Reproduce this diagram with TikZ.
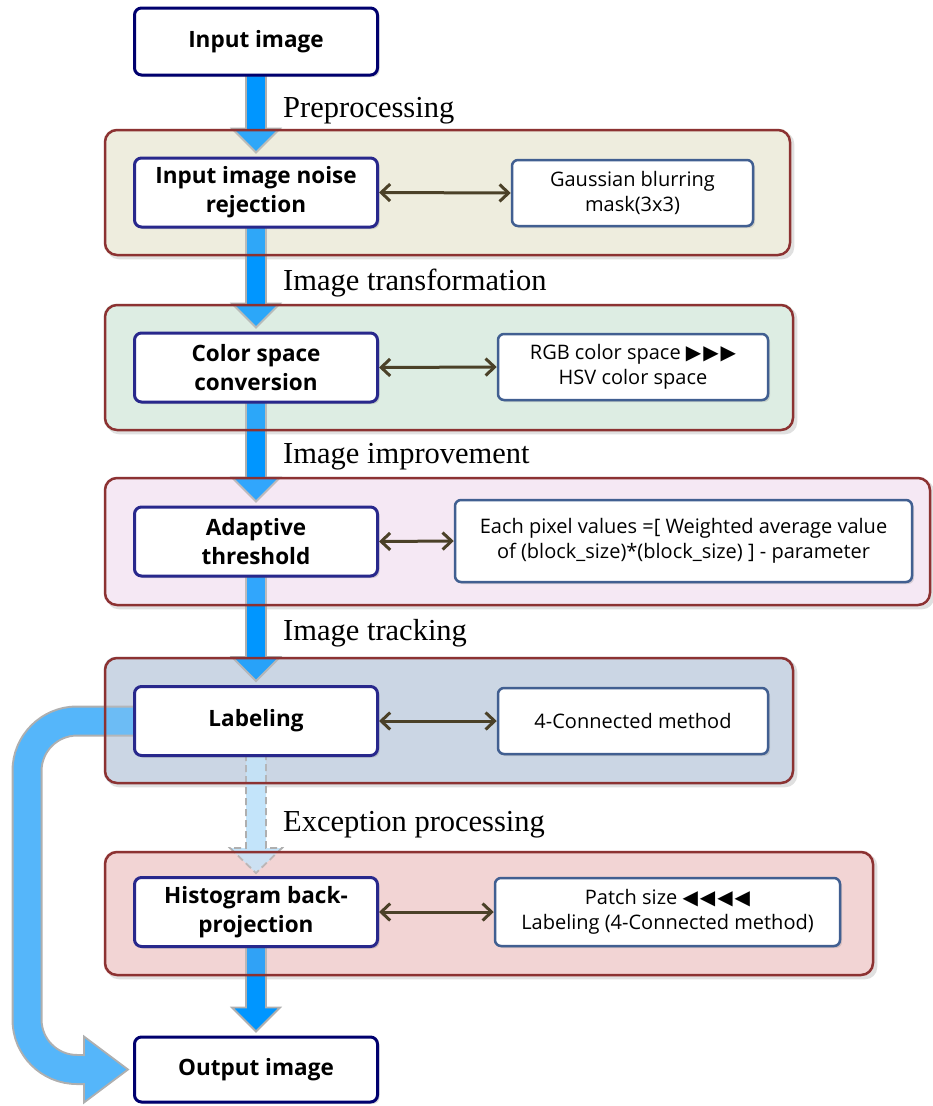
\documentclass[tikz,border=0pt]{standalone}
\usepackage{fontspec}
\setmainfont{Liberation Serif}
\newfontfamily\nodefont{Open Sans}
\newfontfamily\symfont{DejaVu Sans}
\usetikzlibrary{calc,shadows,arrows.meta}
\pgfdeclarelayer{bg}\pgfdeclarelayer{flow}\pgfdeclarelayer{tint}
\pgfsetlayers{bg,flow,tint,main}
\definecolor{navy}{RGB}{0,0,110}
\definecolor{nodeborder}{RGB}{40,40,140}
\definecolor{rbord}{RGB}{65,95,145}
\definecolor{stageborder}{RGB}{140,50,50}
\definecolor{flowblue}{RGB}{0,150,255}
\definecolor{loopblue}{RGB}{85,182,250}
\definecolor{dashblue}{RGB}{195,228,250}
\definecolor{linkcol}{RGB}{75,65,40}
\definecolor{outl}{RGB}{175,175,175}
\definecolor{sa}{RGB}{238,237,222}
\definecolor{sb}{RGB}{221,237,227}
\definecolor{sc}{RGB}{245,232,244}
\definecolor{sd}{RGB}{203,214,228}
\definecolor{se}{RGB}{242,212,212}
\newcommand{\flowdown}[3][]{%
  \filldraw[flowarrow,#1] ($(#2.south)+(-10,-3)$) -- ($(#3.north)+(-10,-28)$) -- ($(#3.north)+(-24,-28)$) -- ($(#3.north)+(0,-4)$) -- ($(#3.north)+(24,-28)$) -- ($(#3.north)+(10,-28)$) -- ($(#2.south)+(10,-3)$);}
\newcommand{\stagebg}[2]{%
  \begin{pgfonlayer}{bg}
    \fill[black,opacity=0.12,rounded corners=12pt] ($(#1.north west)+(3,3)$) rectangle ($(#1.south east)+(3,3)$);
    \fill[#2,rounded corners=12pt] (#1.north west) rectangle (#1.south east);
  \end{pgfonlayer}}
\begin{document}
\begin{tikzpicture}[x=1pt,y=-1pt,
  io/.style={draw=navy, line width=3pt, fill=white, rounded corners=7pt,
    minimum width=243pt, minimum height=67pt, inner sep=2pt,
    font=\nodefont\bfseries\fontsize{22.5}{29}\selectfont, align=center,
    drop shadow={shadow xshift=2pt,shadow yshift=-2pt,opacity=0.3}},
  proc/.style={io, draw=nodeborder, minimum height=69pt},
  info/.style={draw=rbord, line width=2.5pt, fill=white, rounded corners=6pt,
    minimum height=66pt, inner sep=2pt,
    font=\nodefont\fontsize{20}{25}\selectfont, align=center,
    drop shadow={shadow xshift=2pt,shadow yshift=-2pt,opacity=0.25}},
  stage/.style={draw=stageborder, line width=2.5pt, rounded corners=12pt,
    fill=#1, fill opacity=0.2, inner sep=0pt},
  stagelabel/.style={anchor=base west, inner sep=0pt, font=\fontsize{30.5}{34}\selectfont},
  link/.style={draw=linkcol, line width=3pt, {Straight Barb[length=9pt,width=17pt]}-{Straight Barb[length=9pt,width=17pt]}},
  flowarrow/.style={fill=flowblue, draw=outl, line width=1.8pt, line join=miter},
  dashflow/.style={fill=dashblue, draw=outl, line width=1.8pt, dash pattern=on 7pt off 4pt},
]
\useasboundingbox (0,0) rectangle (932,1106);

% stage containers
\begin{pgfonlayer}{tint}
\node[stage=sa, minimum width=685pt, minimum height=125pt] (st1) at (447.5,192.5) {};
\node[stage=sb, minimum width=688pt, minimum height=125pt] (st2) at (449,367.5) {};
\node[stage=sc, minimum width=825pt, minimum height=127pt] (st3) at (517.5,541.5) {};
\node[stage=sd, minimum width=688pt, minimum height=125pt] (st4) at (449,720.5) {};
\node[stage=se, minimum width=768pt, minimum height=123pt] (st5) at (489,913.5) {};
\end{pgfonlayer}
\stagebg{st1}{sa}\stagebg{st2}{sb}\stagebg{st3}{sc}\stagebg{st4}{sd}\stagebg{st5}{se}

% main nodes
\node[io] (in) at (256,41.5) {Input image};
\node[proc] (n1) at (256,192.5) {Input image noise\\rejection};
\node[proc] (n2) at (256,367.5) {Color space\\conversion};
\node[proc] (n3) at (256,541.5) {Adaptive\\threshold};
\node[proc] (lab) at (256,721) {Labeling};
\node[proc] (hist) at (256,912) {Histogram back-\\projection};
\node[io, minimum height=65pt] (out) at (256,1069.5) {Output image};

% info nodes
\node[info, minimum width=241pt] (r1) at (632.5,193) {Gaussian blurring\\mask(3x3)};
\node[info, minimum width=270pt] (r2) at (633,367) {RGB color space {\symfont\fontsize{20}{20}\selectfont ▶\kern2pt▶\kern2pt▶}\\HSV color space};
\node[info, minimum width=457pt, minimum height=82pt] (r3) at (683.5,541) {Each pixel values =[ Weighted average value\\of (block\_size)*(block\_size) ] - parameter};
\node[info, minimum width=270pt] (r4) at (633,721) {4-Connected method};
\node[info, minimum width=345pt, minimum height=68pt] (r5) at (667.5,912) {Patch size {\symfont\fontsize{20}{20}\selectfont ◀\kern2pt◀\kern2pt◀\kern2pt◀}\\Labeling (4-Connected method)};

% links
\draw[link] (n1.east) -- (r1.west);
\draw[link] (n2.east) -- (r2.west);
\draw[link] (n3.east) -- (r3.west);
\draw[link] (lab.east) -- (r4.west);
\draw[link] (hist.east) -- (r5.west);

% stage labels
\node[stagelabel] (l1) at (283,117) {Preprocessing};
\node[stagelabel] (l2) at (283,290) {Image transformation};
\node[stagelabel] (l3) at (283,463) {Image improvement};
\node[stagelabel] (l4) at (283,640) {Image tracking};
\node[stagelabel] (l5) at (283,831) {Exception processing};

% flow arrows
\begin{pgfonlayer}{flow}
\flowdown{in}{n1}
\flowdown{n1}{n2}
\flowdown{n2}{n3}
\flowdown{n3}{lab}
\flowdown{hist}{out}
\filldraw[dashflow] ($(lab.south)+(-10,-3)$) -- ($(hist.north)+(-10,-28)$) -- ($(hist.north)+(-26,-28)$) -- ($(hist.north)+(0,-3)$) -- ($(hist.north)+(26,-28)$) -- ($(hist.north)+(10,-28)$) -- ($(lab.south)+(10,-3)$);
% loop arrow from Labeling to Output image
\draw[outl, line width=31pt, rounded corners=50pt] (lab.center) -- ($(lab.west)+(-106,0)$) |- ($(out.west)+(-48,0)$);
\draw[loopblue, line width=27pt, rounded corners=50pt] (lab.center) -- ($(lab.west)+(-106,0)$) |- ($(out.west)+(-47,0)$);
\filldraw[fill=loopblue, draw=outl, line width=1.8pt, line join=miter] ($(out.west)+(-49,-13.5)$) -- ($(out.west)+(-49,-33)$) -- ($(out.west)+(-5,0)$) -- ($(out.west)+(-49,33)$) -- ($(out.west)+(-49,13.5)$);
\end{pgfonlayer}
\end{tikzpicture}
\end{document}
